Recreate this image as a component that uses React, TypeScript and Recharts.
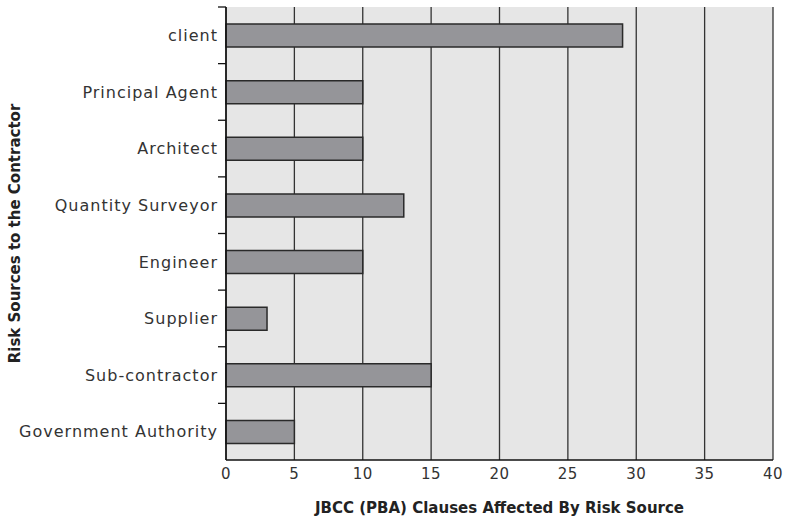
import { BarChart, Bar, XAxis, YAxis, CartesianGrid, Label } from 'recharts'

const sources = [
    'client',
    'Principal Agent',
    'Architect',
    'Quantity Surveyor',
    'Engineer',
    'Supplier',
    'Sub-contractor',
    'Government Authority',
]
const clauses = [29, 10, 10, 13, 10, 3, 15, 5]
const xTicks = [0, 5, 10, 15, 20, 25, 30, 35, 40]

const data = sources.map((source, i) => ({ source, clauses: clauses[i] }))

const font = '"DejaVu Sans", sans-serif'

// category label plus a short tick mark at the top edge of its band
const SourceTick = (props: any) => {
    const { x, y, payload } = props
    const half = payload && payload.offset ? payload.offset : 0
    return (
        <g>
            <line x1={x} x2={x + 8} y1={y - half} y2={y - half} stroke="#111" strokeWidth={1.3} />
            <text
                x={x}
                y={y}
                dy="0.36em"
                textAnchor="end"
                fill="#333"
                fontSize={16}
                fontFamily={font}
                letterSpacing={1}
            >
                {payload.value}
            </text>
        </g>
    )
}

export default function App() {
    return (
        <div style={{ position: 'absolute', left: 0, top: 0, width: 786, height: 518, background: '#fff' }}>
            <BarChart
                width={786}
                height={518}
                data={data}
                layout="vertical"
                margin={{ top: 7, right: 13, bottom: 0, left: 0 }}
                barSize={23}
            >
                <CartesianGrid horizontal={false} fill="#e6e6e6" stroke="#333" strokeWidth={1.3} />
                <XAxis
                    type="number"
                    domain={[0, 40]}
                    ticks={xTicks}
                    height={58}
                    tickLine={false}
                    axisLine={{ stroke: '#111', strokeWidth: 1.5 }}
                    tick={{ fill: '#333', fontSize: 15, fontFamily: font, letterSpacing: 0.5 }}
                >
                    <Label
                        value="JBCC (PBA) Clauses Affected By Risk Source"
                        position="insideBottom"
                        offset={5}
                        style={{ fill: '#222', fontSize: 15, fontWeight: 700, fontFamily: font }}
                    />
                </XAxis>
                <XAxis
                    xAxisId="top"
                    orientation="top"
                    type="number"
                    domain={[0, 40]}
                    height={0}
                    tick={false}
                    tickLine={false}
                    axisLine={{ stroke: '#111', strokeWidth: 1.5 }}
                />
                <YAxis
                    type="category"
                    dataKey="source"
                    width={226}
                    tickLine={false}
                    axisLine={{ stroke: '#111', strokeWidth: 1.5 }}
                    tick={<SourceTick />}
                >
                    <Label
                        content={({ viewBox }: any) => (
                            <text
                                x={15}
                                y={viewBox.y + viewBox.height / 2}
                                transform={`rotate(-90, 15, ${viewBox.y + viewBox.height / 2})`}
                                textAnchor="middle"
                                dominantBaseline="central"
                                fill="#222"
                                fontSize={15}
                                fontWeight={700}
                                fontFamily={font}
                            >
                                Risk Sources to the Contractor
                            </text>
                        )}
                    />
                </YAxis>
                <Bar dataKey="clauses" fill="#959599" stroke="#2a2a2a" strokeWidth={1.5} isAnimationActive={false} />
            </BarChart>
        </div>
    )
}
